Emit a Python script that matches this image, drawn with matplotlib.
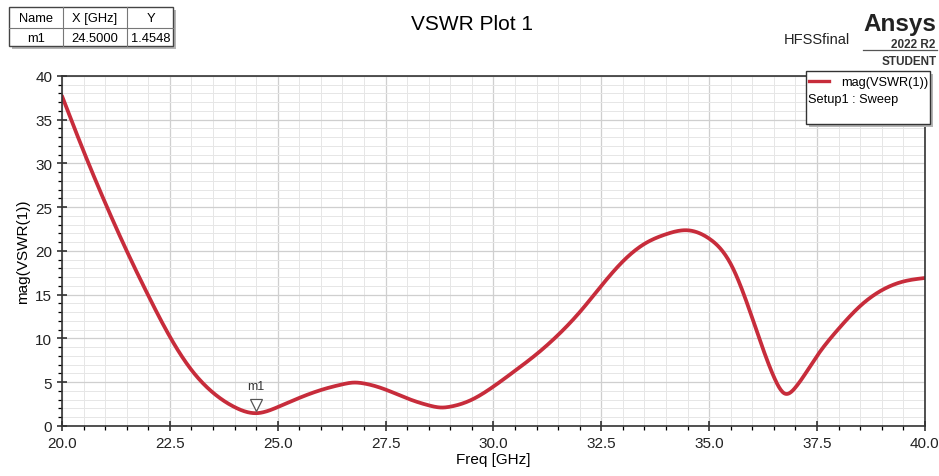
import numpy as np
import matplotlib.pyplot as plt
from matplotlib.patches import Rectangle
from matplotlib.lines import Line2D
from matplotlib.ticker import MultipleLocator, FormatStrFormatter

plt.rcParams['font.family'] = ['Liberation Sans', 'DejaVu Sans']

# VSWR sweep samples (GHz, magnitude)
freq = [20.0, 20.5, 21.0, 21.5, 22.0, 22.5, 23.0, 23.5, 24.0, 24.5, 25.0, 25.5,
        26.0, 26.5, 26.75, 27.0, 27.5, 28.0, 28.5, 28.8, 29.0, 29.5, 30.0, 30.5,
        31.0, 31.5, 32.0, 32.5, 33.0, 33.5, 34.0, 34.5, 35.0, 35.5, 36.0, 36.5,
        36.75, 37.0, 37.5, 38.0, 38.5, 39.0, 39.5, 40.0]
vswr = [37.7, 31.4, 25.5, 20.0, 14.9, 10.2, 6.4, 3.8, 2.15, 1.4548, 2.15, 3.2,
        4.1, 4.75, 4.95, 4.85, 4.15, 3.15, 2.35, 2.1, 2.2, 3.0, 4.5, 6.3,
        8.2, 10.4, 13.0, 16.0, 18.8, 20.8, 21.9, 22.35, 21.4, 18.5, 12.3, 5.6,
        3.7, 4.4, 8.0, 11.1, 13.7, 15.5, 16.5, 16.9]

marker_name = 'm1'
marker_x = 24.5
marker_y = 1.4548


def spline(x, y, xs):
    # natural cubic spline through the samples
    x = np.asarray(x, float)
    y = np.asarray(y, float)
    n = len(x)
    h = np.diff(x)
    A = np.zeros((n, n))
    r = np.zeros(n)
    A[0, 0] = A[-1, -1] = 1
    for k in range(1, n - 1):
        A[k, k - 1] = h[k - 1]
        A[k, k] = 2 * (h[k - 1] + h[k])
        A[k, k + 1] = h[k]
        r[k] = 6 * ((y[k + 1] - y[k]) / h[k] - (y[k] - y[k - 1]) / h[k - 1])
    M = np.linalg.solve(A, r)
    i = np.clip(np.searchsorted(x, xs) - 1, 0, n - 2)
    a = x[i + 1] - xs
    b = xs - x[i]
    hi = h[i]
    return (M[i] * a**3 / (6 * hi) + M[i + 1] * b**3 / (6 * hi)
            + (y[i] / hi - M[i] * hi / 6) * a + (y[i + 1] / hi - M[i + 1] * hi / 6) * b)


xs = np.linspace(freq[0], freq[-1], 1000)
ys = spline(freq, vswr, xs)

fig = plt.figure(figsize=(9.39, 4.77), dpi=100)
ax = fig.add_axes([0.066, 0.105, 0.919, 0.734])

ax.plot(xs, ys, color='#c72c3b', lw=2.7, solid_capstyle='round')
ax.plot(marker_x, marker_y + 0.9, marker='v', ms=9, mfc='white',
        mec='#555555', mew=0.9, ls='none')
ax.text(marker_x, marker_y + 2.4, marker_name, ha='center', va='bottom',
        fontsize=9, color='#333333')

ax.set_xlim(20, 40)
ax.set_ylim(0, 40)
ax.xaxis.set_major_locator(MultipleLocator(2.5))
ax.xaxis.set_minor_locator(MultipleLocator(0.5))
ax.yaxis.set_major_locator(MultipleLocator(5))
ax.yaxis.set_minor_locator(MultipleLocator(1))
ax.xaxis.set_major_formatter(FormatStrFormatter('%.1f'))
ax.grid(which='major', color='#cfcfcf', lw=0.9)
ax.grid(which='minor', color='#e6e6e6', lw=0.7)
ax.tick_params(which='major', direction='inout', length=7, width=1.1,
               labelsize=11, colors='#222222')
ax.tick_params(which='minor', direction='out', length=3, width=0.9)
for s in ax.spines.values():
    s.set_color('#333333')
    s.set_linewidth(1.2)

ax.set_xlabel('Freq [GHz]', fontsize=11, labelpad=2)
ax.set_ylabel('mag(VSWR(1))', fontsize=11, labelpad=4)

fig.text(0.503, 0.948, 'VSWR Plot 1', ha='center', va='center', fontsize=15)

# figure-pixel helpers
W, H = 939, 477
def fx(p): return p / W
def fy(p): return 1 - p / H

# marker table
fig.patches.append(Rectangle((fx(12), fy(50)), fx(164), 39 / H, transform=fig.transFigure,
                             fc='#b5b5b5', ec='none', zorder=1))
fig.patches.append(Rectangle((fx(9), fy(47)), fx(164), 39 / H, transform=fig.transFigure,
                             fc='white', ec='#444444', lw=1, zorder=2))
for cx in [62.5, 127.5]:
    fig.add_artist(Line2D([fx(cx), fx(cx)], [fy(8), fy(47)], color='#777777', lw=0.8,
                          transform=fig.transFigure, zorder=3))
fig.add_artist(Line2D([fx(9), fx(173)], [fy(28.5), fy(28.5)], color='#777777', lw=0.8,
                      transform=fig.transFigure, zorder=3))
hdr = ['Name', 'X [GHz]', 'Y']
row = [marker_name, '%.4f' % marker_x, '%.4f' % marker_y]
cols = [36, 95, 150.5]
for c, h, r in zip(cols, hdr, row):
    fig.text(fx(c), fy(19), h, ha='center', va='center', fontsize=9.3, zorder=4)
    fig.text(fx(c), fy(39), r, ha='center', va='center', fontsize=9.3, zorder=4)

# product stamp
fig.text(fx(936), fy(24), 'Ansys', ha='right', va='center', fontsize=17.5,
         fontweight='bold', color='#222222')
fig.text(fx(935), fy(45), '2022 R2', ha='right', va='center', fontsize=8.5,
         fontweight='bold', color='#333333')
fig.add_artist(Line2D([fx(863), fx(937)], [fy(51), fy(51)], color='#555555', lw=0.9,
                      transform=fig.transFigure))
fig.text(fx(937), fy(62), 'STUDENT', ha='right', va='center', fontsize=8.5,
         fontweight='bold', color='#333333')
fig.text(fx(817), fy(40), 'HFSSfinal', ha='center', va='center', fontsize=10.5,
         color='#222222')

# legend box
fig.patches.append(Rectangle((fx(809), fy(128)), fx(124), 53 / H, transform=fig.transFigure,
                             fc='#b5b5b5', ec='none', zorder=5))
fig.patches.append(Rectangle((fx(806), fy(125)), fx(124), 53 / H, transform=fig.transFigure,
                             fc='white', ec='#333333', lw=1, zorder=6))
fig.add_artist(Line2D([fx(809), fx(829)], [fy(82), fy(82)], color='#c72c3b', lw=2.4,
                      transform=fig.transFigure, zorder=7))
fig.text(fx(928), fy(83), 'mag(VSWR(1))', ha='right', va='center', fontsize=9.2, zorder=7)
fig.text(fx(808), fy(99.5), 'Setup1 : Sweep', ha='left', va='center', fontsize=9.2, zorder=7)

fig.savefig('out.png', dpi=100)
